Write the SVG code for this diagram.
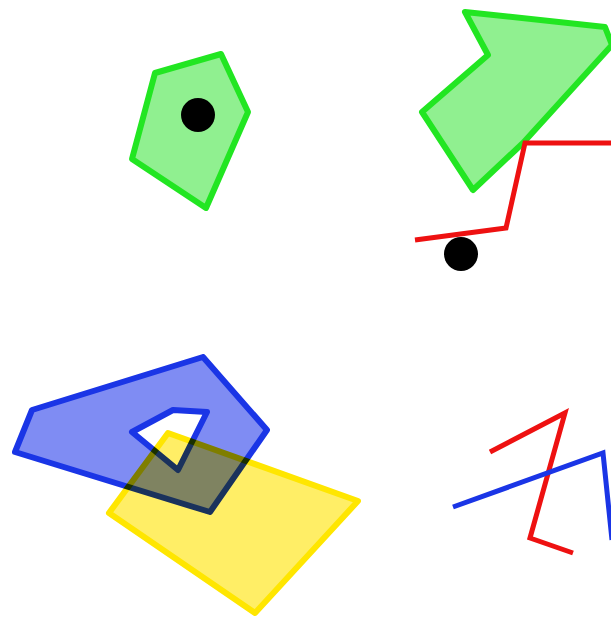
<svg xmlns="http://www.w3.org/2000/svg" width="611" height="620" viewBox="0 0 611 620">
<style>
.g{fill:#90f090;stroke:#22e622;stroke-width:6;stroke-linejoin:round}
.dot{fill:#000}
.r{fill:none;stroke:#ee1111;stroke-width:5;stroke-linejoin:miter}
.b{fill:none;stroke:#1a35e6;stroke-width:5}
.y{fill:#ffee66;stroke:#ffe600;stroke-width:6;stroke-linejoin:round}
.bp{fill:#7f8cf3;stroke:#1a35e6;stroke-width:6;stroke-linejoin:round;fill-rule:evenodd;mix-blend-mode:multiply}
</style>
<rect width="611" height="620" fill="#fff"/>
<g id="pentagon">
<polygon class="g" points="155,73 221,54 248,112 206,208 132,159"/>
<circle class="dot" cx="198" cy="115" r="17"/>
</g>
<g id="arrow">
<polygon class="g" points="465,12 605,27 612,45 523,143 473,190 422,112 488,55"/>
</g>
<g id="redline-top">
<polyline class="r" points="611,143 525,143 506,228 415,240"/>
<circle class="dot" cx="461" cy="254" r="17"/>
</g>
<g id="yellow">
<polygon class="y" points="168,433 358,501 255,613 109,513"/>
</g>
<g id="blue">
<path class="bp" d="M32,410 L203,357 L267,430 L210,512 L15,452 Z M132,432 L173,410 L207,412 L178,470 Z"/>
</g>
<g id="lines-bottom">
<polyline class="r" points="490,452 565,413 530,538 573,553"/>
<polyline class="b" points="453,507 603,453 612,540"/>
</g>
</svg>
